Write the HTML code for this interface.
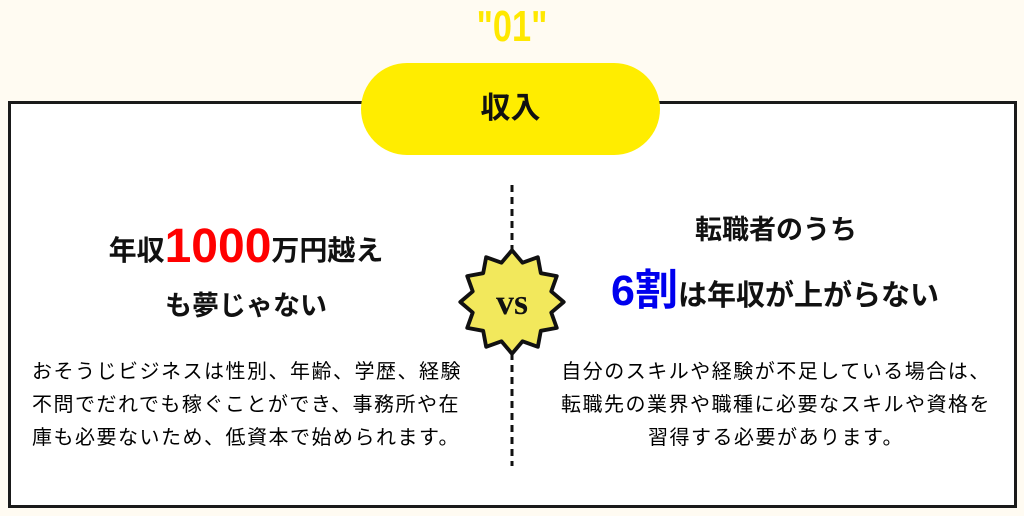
<!DOCTYPE html>
<html><head><meta charset="utf-8">
<style>
body{margin:0;width:1024px;height:516px;background:#fffbf2;position:relative;overflow:hidden;font-family:"Liberation Sans","Noto Sans CJK JP",sans-serif;color:#111;}
.abs{position:absolute;}
.box{left:8px;top:101px;width:1003px;height:401px;border:3px solid #1a1a1a;background:#fff;}
.num{left:0;width:1024px;top:2px;text-align:center;color:#ffe800;font-size:44px;font-weight:bold;transform:scaleX(0.78);}
.pill{left:361px;top:63px;width:299px;height:92px;border-radius:46px;background:#ffed00;text-align:center;line-height:92px;font-size:30px;font-weight:bold;}
.h{font-weight:bold;white-space:nowrap;text-align:center;}
.body{font-size:20px;letter-spacing:1.5px;line-height:33px;white-space:nowrap;color:#000;}
</style></head><body>
<div class="abs num">"01"</div>
<div class="abs box"></div>
<div class="abs pill">収入</div>

<div class="abs h" style="left:96px;width:300px;top:222px;font-size:28px;line-height:50px;">年収<span style="color:#f00;font-size:48px;vertical-align:-2px;">1000</span>万円越え</div>
<div class="abs h" style="left:96px;width:300px;top:284px;font-size:27px;">も夢じゃない</div>

<div class="abs h" style="left:626px;width:300px;top:208px;font-size:27px;">転職者のうち</div>
<div class="abs h" style="left:575px;width:400px;top:266px;font-size:29px;line-height:50px;"><span style="color:#0000ee;font-size:43px;">6割</span>は年収が上がらない</div>

<div class="abs body" style="left:32px;top:356px;">おそうじビジネスは性別、年齢、学歴、経験<br>不問でだれでも稼ぐことができ、事務所や在<br>庫も必要ないため、低資本で始められます。</div>
<div class="abs body" style="left:526px;width:500px;top:356px;text-align:center;">自分のスキルや経験が不足している場合は、<br>転職先の業界や職種に必要なスキルや資格を<br>習得する必要があります。</div>

<svg class="abs" style="left:0;top:0" width="1024" height="516">
<line x1="512" y1="185" x2="512" y2="466" stroke="#111" stroke-width="3" stroke-dasharray="7,5"/>
<g transform="translate(512,302) scale(1.1) translate(-512,-302)">
<polygon points="559,302 547.7,311.6 552.7,325.5 538.2,328.2 535.5,342.7 521.6,337.7 512,349 502.4,337.7 488.5,342.7 485.8,328.2 471.3,325.5 476.3,311.6 465,302 476.3,292.4 471.3,278.5 485.8,275.8 488.5,261.3 502.4,266.3 512,255 521.6,266.3 535.5,261.3 538.2,275.8 552.7,278.5 547.7,292.4" fill="#f2e85c" stroke="#111" stroke-width="3.5" stroke-linejoin="round"/>
</g>
<text x="512" y="314" text-anchor="middle" font-family="Liberation Serif,serif" font-weight="bold" font-size="36" fill="#111">vs</text>
</svg>
</body></html>
